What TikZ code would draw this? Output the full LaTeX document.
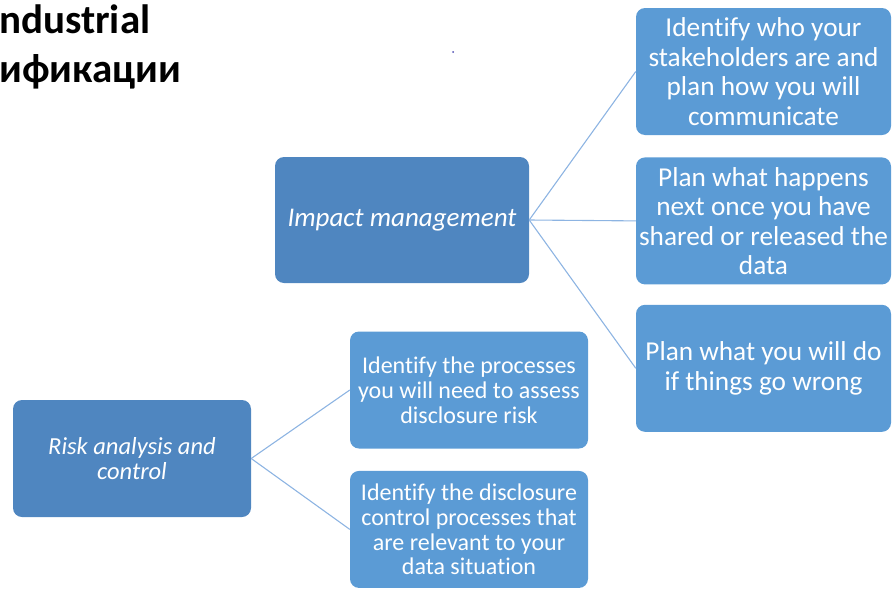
\documentclass[tikz,border=0pt]{standalone}
\usepackage{fontspec}
\setmainfont{Carlito}[Ligatures=NoCommon]
\usetikzlibrary{positioning}
\definecolor{topicblue}{HTML}{4F86C0}
\definecolor{stepblue}{HTML}{5B9BD5}
\definecolor{linkblue}{HTML}{8DB4E2}
\tikzset{
  plan topic/.style={
    rectangle, rounded corners=9pt, fill=topicblue,
    text=white, align=center, inner sep=0pt,
    font=\itshape\fontsize{24.5}{25.5}\selectfont
  },
  plan step/.style={
    rectangle, rounded corners=9pt, fill=stepblue,
    text=white, align=center, inner sep=0pt,
    minimum width=255pt, minimum height=127pt,
    font=\fontsize{27.3}{29.5}\selectfont
  },
  plan substep/.style={
    plan step, minimum width=238pt, minimum height=117pt,
    font=\fontsize{24}{24.8}\selectfont
  },
  plan link/.style={
    draw=linkblue, line width=1.1pt
  },
  plan heading/.style={
    anchor=base west, inner sep=0pt,
    font=\bfseries\fontsize{41}{47}\selectfont
  }
}

\begin{document}
\begin{tikzpicture}[x=1pt, y=-1pt]
  \useasboundingbox (0,0) rectangle (895,592);

  \node (head1) [plan heading] at (-1,33) {ndustrial};
  \node (head2) [plan heading] at (-1,82) {ификации};
  \fill [gray!60!blue] (453,52) circle (1pt);

  \node (impact) [plan topic, minimum width=254pt, minimum height=126pt,
    font=\itshape\fontsize{27}{29}\selectfont]
    at (402,220) {Impact management};
  \node (risk) [plan topic, minimum width=238pt, minimum height=117pt]
    at (132,458.5) {Risk analysis and\\control};

  \node (who) [plan step] at (763.5,71.5)
    {Identify who your\\stakeholders are and\\plan how you will\\communicate};
  \node (next) [plan step, below=22pt of who]
    {Plan what happens\\next once you have\\shared or released the\\data};
  \node (wrong) [plan step, below=20pt of next]
    {Plan what you will do\\if things go wrong};

  \node (assess) [plan substep] at (469,390)
    {Identify the processes\\you will need to assess\\disclosure risk};
  \node (control) [plan substep, below=22pt of assess]
    {Identify the disclosure\\control processes that\\are relevant to your\\data situation};

  \draw [plan link] (impact.east) -- (who.west);
  \draw [plan link] (impact.east) -- (next.west);
  \draw [plan link] (impact.east) -- (wrong.west);
  \draw [plan link] (risk.east) -- (assess.west);
  \draw [plan link] (risk.east) -- (control.west);
\end{tikzpicture}
\end{document}
